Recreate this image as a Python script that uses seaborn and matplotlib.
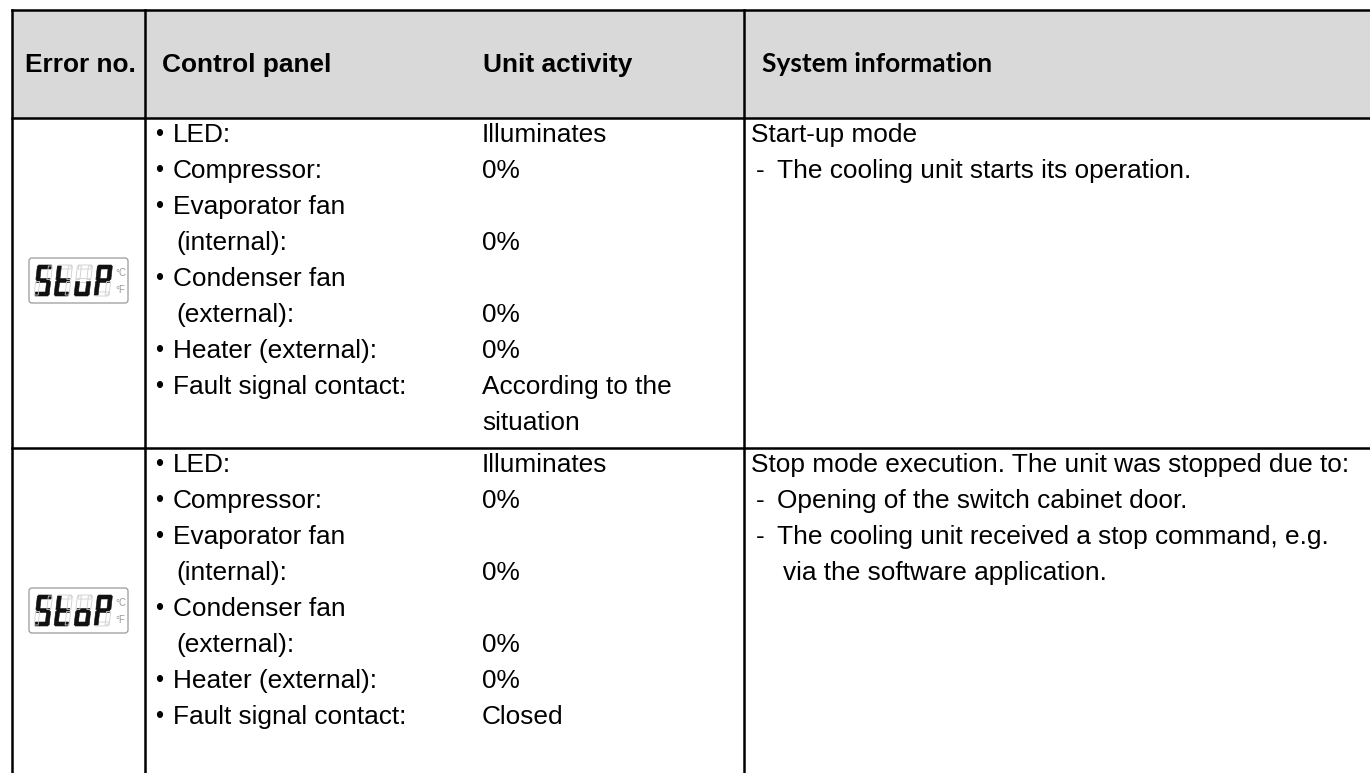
import matplotlib
matplotlib.use("Agg")
import matplotlib.pyplot as plt
from matplotlib.patches import Rectangle, Polygon, FancyBboxPatch
import seaborn as sns

# table content
headers = ["Error no.", "Control panel", "Unit activity", "System information"]
codes = ["StuP", "StoP"]
panel_items = ["LED:", "Compressor:", "Evaporator fan", "(internal):", "Condenser fan",
               "(external):", "Heater (external):", "Fault signal contact:", ""]
panel_bullet = [True, True, True, False, True, False, True, True, False]
activity_stup = ["Illuminates", "0%", "", "0%", "", "0%", "0%", "According to the", "situation"]
activity_stop = ["Illuminates", "0%", "", "0%", "", "0%", "0%", "Closed", ""]
info_stup = [("head", "Start-up mode"),
             ("dash", "The cooling unit starts its operation.")]
info_stop = [("head", "Stop mode execution. The unit was stopped due to:"),
             ("dash", "Opening of the switch cabinet door."),
             ("dash", "The cooling unit received a stop command, e.g."),
             ("cont", "via the software application.")]
activities = [activity_stup, activity_stop]
infos = [info_stup, info_stop]

# 7-segment letters
seg_map = {"S": "afgcd", "t": "fged", "u": "edc", "o": "gedc", "P": "abfge"}

sns.set_theme(style="white")
plt.rcParams["font.family"] = ["Liberation Sans", "DejaVu Sans"]
plt.rcParams["text.color"] = "black"

W, H = 1370, 773
fig = plt.figure(figsize=(13.7, 7.73), dpi=100)
ax = fig.add_axes([0, 0, 1, 1])
ax.set_xlim(0, W)
ax.set_ylim(H, 0)
ax.axis("off")

x_left, x_c1, x_c3 = 12, 145, 744
y_top, y_head, row_h = 10, 118, 330
lw = 1.8
fs = 18.9

ax.add_patch(Rectangle((x_left, y_top), W - x_left + 5, y_head - y_top,
                       facecolor="#d9d9d9", edgecolor="none"))
for y in [y_top, y_head, y_head + row_h, y_head + 2 * row_h]:
    ax.plot([x_left, W + 5], [y, y], color="black", lw=lw, solid_capstyle="projecting")
for x in [x_left, x_c1, x_c3]:
    ax.plot([x, x], [y_top, H + 10], color="black", lw=lw, solid_capstyle="projecting")

# header
hx = [25, 162, 483]
for x, t in zip(hx, headers[:3]):
    ax.text(x, 72, t, fontsize=fs, fontweight="bold", va="baseline", ha="left", color="black")
ax.text(762, 72, headers[3], fontsize=19, fontweight="bold", va="baseline", ha="left",
        family=["Lato", "DejaVu Sans"], color="black")


def segments(L, T, w=15, h=31, t=4.0, s=3.5, g=1.0):
    boxes = {
        "a": (g, w - g, 0, t),
        "g": (g, w - g, h / 2 - t / 2, h / 2 + t / 2),
        "d": (g, w - g, h - t, h),
        "f": (0, t, g, h / 2 - g),
        "b": (w - t, w, g, h / 2 - g),
        "e": (0, t, h / 2 + g, h - g),
        "c": (w - t, w, h / 2 + g, h - g),
    }
    out = {}
    for k, (u0, u1, v0, v1) in boxes.items():
        pts = [(u0, v0), (u1, v0), (u1, v1), (u0, v1)]
        out[k] = [(L + u + s * (1 - v / h), T + v) for u, v in pts]
    return out


def draw_display(x, y, code):
    ax.add_patch(FancyBboxPatch((x, y), 99, 45, boxstyle="round,pad=0,rounding_size=3",
                                facecolor="white", edgecolor="#9a9a9a", lw=0.9))
    for i, ch in enumerate(code):
        segs = segments(x + 5 + 20 * i, y + 7)
        lit = seg_map.get(ch, "")
        for k, poly in segs.items():
            if k in lit:
                ax.add_patch(Polygon(poly, closed=True, facecolor="#111111", edgecolor="#111111", lw=0.4))
            else:
                ax.add_patch(Polygon(poly, closed=True, facecolor="none", edgecolor="#cfcfcf", lw=0.6))
    ax.text(x + 86, y + 15, "°C", fontsize=7, color="#9a9a9a", va="center", ha="left")
    ax.text(x + 86, y + 32, "°F", fontsize=7, color="#9a9a9a", va="center", ha="left")


for r in range(2):
    top = y_head + r * row_h
    draw_display(29, top + 140, codes[r])
    for i, (item, bullet, val) in enumerate(zip(panel_items, panel_bullet, activities[r])):
        yb = top + 24 + 36 * i
        if bullet:
            ax.text(155, yb - 1, "•", fontsize=16.5, va="baseline", ha="left", color="black")
            ax.text(173, yb, item, fontsize=fs, va="baseline", ha="left", color="black")
        elif item:
            ax.text(176, yb, item, fontsize=fs, va="baseline", ha="left", color="black")
        if val:
            ax.text(482, yb, val, fontsize=fs, va="baseline", ha="left", color="black")
    for i, (kind, line) in enumerate(infos[r]):
        yb = top + 24 + 36 * i
        if kind == "head":
            ax.text(751, yb, line, fontsize=fs, va="baseline", ha="left", color="black")
        elif kind == "dash":
            ax.text(756, yb, "-", fontsize=fs, va="baseline", ha="left", color="black")
            ax.text(777, yb, line, fontsize=fs, va="baseline", ha="left", color="black")
        else:
            ax.text(783, yb, line, fontsize=fs, va="baseline", ha="left", color="black")

fig.savefig("out.png", dpi=100)
